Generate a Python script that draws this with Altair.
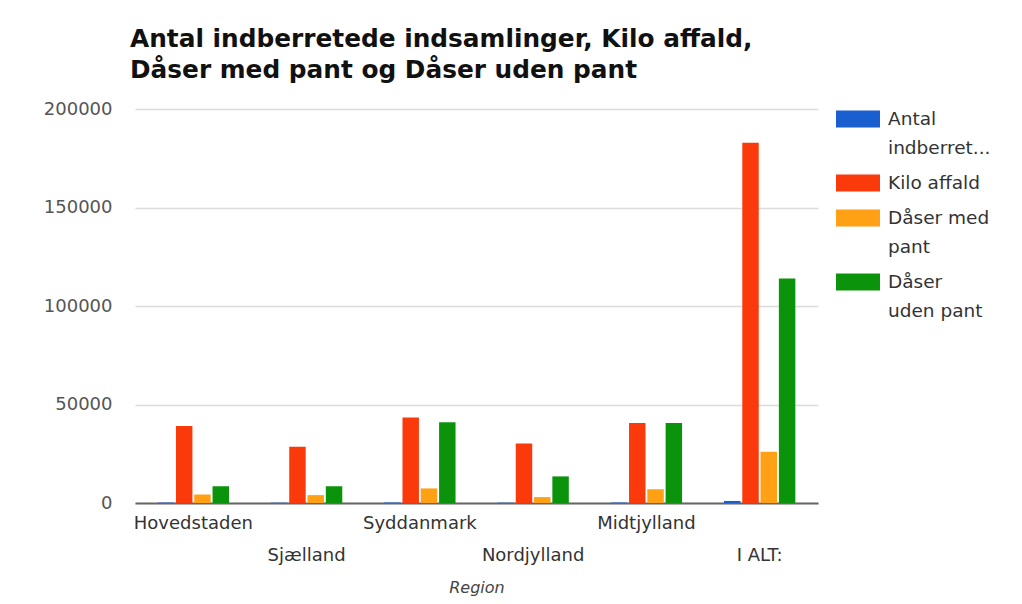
import altair as alt
import pandas as pd

regions = ["Hovedstaden", "Sjælland", "Syddanmark", "Nordjylland", "Midtjylland", "I ALT:"]
series = ["Antal indberretede indsamlinger", "Kilo affald", "Dåser med pant", "Dåser uden pant"]
antal = [220, 150, 260, 170, 240, 1040]
kilo_affald = [39100, 28500, 43400, 30200, 40600, 182900]
daaser_med_pant = [4300, 4000, 7400, 3000, 7000, 26000]
daaser_uden_pant = [8500, 8500, 41000, 13500, 40600, 114000]
colors = ["#1a5fd0", "#fb3a0c", "#ffa015", "#0c930c"]
y_ticks = [0, 50000, 100000, 150000, 200000]

rows = []
for s, vals in zip(series, [antal, kilo_affald, daaser_med_pant, daaser_uden_pant]):
    for r, v in zip(regions, vals):
        rows.append({"Region": r, "Serie": s, "Værdi": v})
df = pd.DataFrame(rows)

FONT = "DejaVu Sans"

stagger = "indexof(['Sjælland','Nordjylland','I ALT:'], datum.label) >= 0 ? ['', datum.label] : datum.label"
legend_wrap = ("datum.label == 'Antal indberretede indsamlinger' ? ['Antal', 'indberret...'] : "
               "datum.label == 'Dåser med pant' ? ['Dåser med', 'pant'] : "
               "datum.label == 'Dåser uden pant' ? ['Dåser', 'uden pant'] : datum.label")

chart = alt.Chart(df).mark_bar().encode(
    x=alt.X("Region:N", sort=regions,
            scale=alt.Scale(paddingInner=0.37, paddingOuter=0.2),
            axis=alt.Axis(title="Region", labelAngle=0, labelExpr=stagger,
                          labelFontSize=18, labelColor="#333", labelPadding=11,
                          labelLineHeight=32, labelFont=FONT,
                          ticks=False, domainColor="#666", domainWidth=2,
                          titleFontStyle="italic", titleFontWeight="normal",
                          titleFontSize=16, titleColor="#444", titlePadding=15,
                          titleFont=FONT)),
    xOffset=alt.XOffset("Serie:N", sort=series, scale=alt.Scale(paddingInner=0.1)),
    y=alt.Y("Værdi:Q", scale=alt.Scale(domain=[0, 200000], nice=False),
            axis=alt.Axis(title=None, values=y_ticks, format="d", domain=False,
                          ticks=False, labelPadding=23, labelFontSize=18,
                          labelColor="#555", labelFont=FONT,
                          gridColor="#dcdcdc", gridWidth=1.5)),
    color=alt.Color("Serie:N", sort=series,
                    scale=alt.Scale(domain=series, range=colors),
                    legend=alt.Legend(title=None, orient="none", legendX=701, legendY=-12,
                                      symbolType="M-1,-0.386H1V0.386H-1Z", symbolSize=1936,
                                      symbolStrokeWidth=0, labelExpr=legend_wrap,
                                      labelFontSize=18.5, labelColor="#333",
                                      labelFont=FONT, labelOffset=8,
                                      labelLimit=200, rowPadding=3)),
).properties(
    width=683, height=394,
    title=alt.TitleParams(text=["Antal indberretede indsamlinger, Kilo affald,",
                                "Dåser med pant og Dåser uden pant"],
                          anchor="start", frame="group", font=FONT, fontSize=24.8,
                          fontWeight="bold", color="#111", lineHeight=31,
                          offset=14, dx=-5),
    autosize=alt.AutoSizeParams(type="none"),
    padding={"left": 127, "top": 101, "right": 190, "bottom": 93},
).configure(
    view=alt.ViewConfig(stroke=None),
    style={"guide-label": {"lineHeight": 29}},
)

chart.save("out.html", embed_options={"renderer": "svg", "actions": False})
